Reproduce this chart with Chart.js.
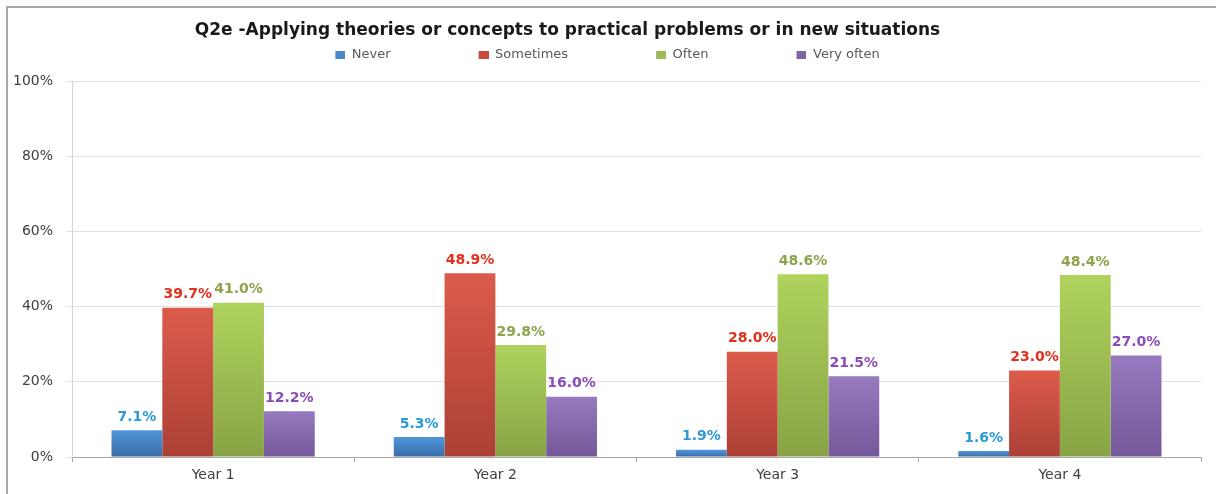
<!DOCTYPE html>
<html>
<head>
<meta charset="utf-8">
<title>Q2e - Applying theories or concepts</title>
<script src="https://cdn.jsdelivr.net/npm/chart.js@4.4.1/dist/chart.umd.min.js"></script>
<style>
  html, body { margin: 0; padding: 0; background: #fff; }
  #wrap  { position: relative; width: 1216px; height: 494px; }
  #frame { position: absolute; left: 6px; top: 6px; right: 0; bottom: 0;
           border-left: 2px solid #a8a8a8; border-top: 2px solid #a8a8a8; pointer-events: none; }
  canvas { position: absolute; left: 0; top: 0; }
</style>
</head>
<body>
<div id="wrap"><div id="frame"></div><canvas id="c-q2e"></canvas></div>
<script>
// ── DATA ──────────────────────────────────────────────────────
var TITLE      = "Q2e -Applying theories or concepts to practical problems or in new situations";
var YEARS      = ["Year 1", "Year 2", "Year 3", "Year 4"];
var SERIES     = ["Never", "Sometimes", "Often", "Very often"];
var NEVER      = [7.1, 5.3, 1.9, 1.6];
var SOMETIMES  = [39.7, 48.9, 28.0, 23.0];
var OFTEN      = [41.0, 29.8, 48.6, 48.4];
var VERY_OFTEN = [12.2, 16.0, 21.5, 27.0];
var Y_MAX  = 100;
var Y_STEP = 20;

// ── STYLE ─────────────────────────────────────────────────────
var FONT = "'DejaVu Sans', Verdana, sans-serif";
var STYLES = [
  { top: "#5096dc", bottom: "#3a6ca5", box: "#4a86c8", label: "#2b9ad8" },
  { top: "#dc5b4b", bottom: "#ac4036", box: "#c9493c", label: "#e2301c" },
  { top: "#afd35d", bottom: "#88a345", box: "#9bbb59", label: "#8ea34c" },
  { top: "#977abf", bottom: "#75589a", box: "#8064a2", label: "#8b4cba" }
];
var SWATCH_W = 90;   // legend slot width; the little square sits at its right end

/* bar fill: light at the top of each bar, darker at the base */
function barFill(i) {
  return function (c) {
    var chart = c.chart, y = chart.scales.y;
    if (!chart.chartArea || c.type !== "data" || !y) return STYLES[i].top;
    var g = chart.ctx.createLinearGradient(0, y.getPixelForValue(c.raw), 0, y.getPixelForValue(0));
    g.addColorStop(0, STYLES[i].top);
    g.addColorStop(1, STYLES[i].bottom);
    return g;
  };
}

function legendSwatch(color) {
  var c = document.createElement("canvas");
  c.width = SWATCH_W; c.height = 8;
  var g = c.getContext("2d");
  g.fillStyle = color;
  g.fillRect(SWATCH_W - 10, 0, 10, 8);
  return c;
}
var SWATCHES = STYLES.map(function (s) { return legendSwatch(s.box); });

function legendLabels(chart) {
  return chart.data.datasets.map(function (ds, i) {
    return {
      text: ds.label, fillStyle: STYLES[i].box, strokeStyle: STYLES[i].box, lineWidth: 0,
      pointStyle: SWATCHES[i], hidden: !chart.isDatasetVisible(i), datasetIndex: i,
      fontColor: "#595959"
    };
  });
}

// ── VALUE LABELS ABOVE BARS ──────────────────────────────────
var valueLabels = {
  id: "valueLabels",
  afterDatasetsDraw: function (chart) {
    var ctx = chart.ctx;
    ctx.save();
    ctx.font = "bold 14px " + FONT;
    ctx.textAlign = "center";
    ctx.textBaseline = "middle";
    chart.data.datasets.forEach(function (ds, i) {
      ctx.fillStyle = STYLES[i].label;
      chart.getDatasetMeta(i).data.forEach(function (bar, j) {
        ctx.fillText(ds.data[j].toFixed(1) + "%", bar.x, bar.y - 13);
      });
    });
    ctx.restore();
  }
};

// ── CHART ────────────────────────────────────────────────────
var values = [NEVER, SOMETIMES, OFTEN, VERY_OFTEN];
var datasets = SERIES.map(function (name, i) {
  return {
    label: name,
    data: values[i],
    xAxisID: "x",
    backgroundColor: barFill(i),
    borderWidth: 0,
    categoryPercentage: 0.72,
    barPercentage: 1
  };
});

new Chart(document.getElementById("c-q2e").getContext("2d"), {
  type: "bar",
  data: { labels: YEARS, datasets: datasets },
  plugins: [valueLabels],
  options: {
    responsive: true,
    maintainAspectRatio: false,
    animation: false,
    layout: { padding: { left: -66, right: 15, top: 0, bottom: 0 } },
    plugins: {
      title: {
        display: true, text: TITLE, color: "#1a1a1a",
        font: { family: FONT, size: 17, weight: "bold" },
        padding: { top: 20, bottom: 0 }
      },
      legend: {
        position: "top",
        labels: {
          usePointStyle: true, pointStyleWidth: SWATCH_W, boxHeight: 8, padding: 8,
          color: "#595959", font: { family: FONT, size: 13 },
          generateLabels: legendLabels
        }
      },
      tooltip: { enabled: false }
    },
    scales: {
      x: {
        grid: { display: true, drawOnChartArea: false, drawTicks: true, tickLength: 5, color: "#a6a6a6", offset: true },
        border: { display: true, color: "#a6a6a6" },
        ticks: { color: "#404040", font: { family: FONT, size: 14 }, padding: 5 },
        afterFit: function (s) { s.height = 37; }
      },
      /* empty axis used only as a gap between the legend and the plot */
      xGap: {
        type: "category", position: "top", display: true,
        grid: { display: false }, border: { display: false }, ticks: { display: false },
        afterFit: function (s) { s.height = 9.6; }
      },
      y: {
        min: 0, max: Y_MAX,
        grid: { color: "#e1e1e1", drawTicks: true, tickLength: 6 },
        border: { display: true, color: "#d4d4d4" },
        ticks: {
          stepSize: Y_STEP, color: "#404040", font: { family: FONT, size: 14 }, padding: 13,
          callback: function (v) { return v + "%"; }
        },
        afterFit: function (s) { s.width = 138; }
      }
    }
  }
});
</script>
</body>
</html>
